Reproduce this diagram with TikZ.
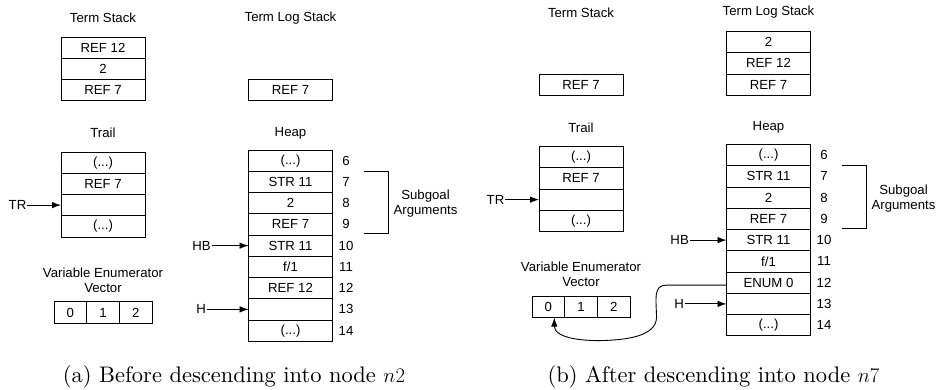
\documentclass[tikz,border=0pt]{standalone}
\usepackage{fontspec}
\newfontfamily\diagfont{Liberation Sans}
\newfontfamily\capfont{lmroman10-regular.otf}
\usetikzlibrary{arrows.meta, positioning}
\newcommand{\elided}{(...)}

\tikzset{
  cell/.style={draw, line width=0.9pt, minimum width=84pt, minimum height=21.25pt, inner sep=0pt, outer sep=0pt},
  vcell/.style={cell, minimum width=32.7pt},
  title/.style={align=center, inner sep=0pt},
  lbl/.style={inner sep=0.5pt, anchor=east},
  ptr/.style={-{Latex[length=9pt,width=6.5pt]}, line width=0.9pt},
  capt/.style={font=\capfont\fontsize{22.5}{26}\selectfont, anchor=base},
}

\begin{document}
\begin{tikzpicture}[x=1pt, y=-1pt, font=\diagfont\fontsize{13.2}{15}\selectfont]
  \useasboundingbox (0,0) rectangle (939,390);

  % (a) before descending
  \begin{scope}
    \node[title] (atst) at (103,18) {Term Stack};
    \node[title] (atlt) at (290.5,18) {Term Log Stack};
    \foreach \t [count=\k from 0] in {REF 12, 2, REF 7}
      \node[cell] (ats\k) at (103,{47.625+21.25*\k}) {\t};
    \node[cell] (atl0) at (290.5,90.125) {REF 7};
    % Trail
    \node[title] (atrt) at (103,133) {Trail};
    \foreach \t [count=\k from 0] in {\elided, REF 7, {}, \elided}
      \node[cell] (at\k) at (103,{162.625+21.25*\k}) {\t};
    \node[lbl] (atr) at ([xshift=-34pt]at2.west) {TR};
    \draw[ptr] (atr.east) -- (at2.west);
    % Heap
    \node[title] (ahpt) at (290.5,133) {Heap};
    \foreach \t [count=\i from 6] in {\elided, STR 11, 2, REF 7, STR 11, f/1, REF 12, {}, \elided}{
      \node[cell] (ah\i) at (290.5,{160.625+21.25*(\i-6)}) {\t};
      \node (an\i) at ([xshift=13.5pt]ah\i.east) {\i};
    }
    \node[lbl] (ahb) at ([xshift=-37pt]ah10.west) {HB};
    \draw[ptr] (ahb.east) -- (ah10.west);
    \node[lbl] (ahh) at ([xshift=-42pt]ah13.west) {H};
    \draw[ptr] (ahh.east) -- (ah13.west);
    \draw[line width=0.9pt] ([xshift=31pt]ah7.north east) -- ++(25,0) |- ([xshift=31pt,yshift=1.5pt]ah9.south east);
    \node[title] (asg) at (425.5,204) {Subgoal\\Arguments};
    % Variable enumerator vector
    \node[title] (avt) at (103,280) {Variable Enumerator\\Vector};
    \node[vcell] (av0) at (70.3,312.5) {0};
    \node[vcell, right=0pt of av0] (av1) {1};
    \node[vcell, right=0pt of av1] (av2) {2};
  \end{scope}

  % (b) after descending
  \begin{scope}[shift={(478,-5.5)}]
    \node[title] (btst) at (103,18) {Term Stack};
    \node[title] (btlt) at (290.5,18) {Term Log Stack};
    \node[cell] (bts0) at (103,90.125) {REF 7};
    \foreach \t [count=\k from 0] in {2, REF 12, REF 7}
      \node[cell] (btl\k) at (290.5,{47.625+21.25*\k}) {\t};
    % Trail
    \node[title] (btrt) at (103,133) {Trail};
    \foreach \t [count=\k from 0] in {\elided, REF 7, {}, \elided}
      \node[cell] (bt\k) at (103,{162.625+21.25*\k}) {\t};
    \node[lbl] (btr) at ([xshift=-34pt]bt2.west) {TR};
    \draw[ptr] (btr.east) -- (bt2.west);
    % Heap
    \node[title] (bhpt) at (290.5,133) {Heap};
    \foreach \t [count=\i from 6] in {\elided, STR 11, 2, REF 7, STR 11, f/1, ENUM 0, {}, \elided}{
      \node[cell] (bh\i) at (290.5,{160.625+21.25*(\i-6)}) {\t};
      \node (bn\i) at ([xshift=13.5pt]bh\i.east) {\i};
    }
    \node[lbl] (bhb) at ([xshift=-37pt]bh10.west) {HB};
    \draw[ptr] (bhb.east) -- (bh10.west);
    \node[lbl] (bhh) at ([xshift=-42pt]bh13.west) {H};
    \draw[ptr] (bhh.east) -- (bh13.west);
    \draw[line width=0.9pt] ([xshift=31pt]bh7.north east) -- ++(25,0) |- ([xshift=31pt,yshift=1.5pt]bh9.south east);
    \node[title] (bsg) at (425.5,204) {Subgoal\\Arguments};
    % Variable enumerator vector
    \node[title] (bvt) at (103,280) {Variable Enumerator\\Vector};
    \node[vcell] (bv0) at (70.3,312.5) {0};
    \node[vcell, right=0pt of bv0] (bv1) {1};
    \node[vcell, right=0pt of bv1] (bv2) {2};
    \draw[ptr] ([yshift=-2.5pt]bh12.west) -- ++(-60,0)
      .. controls +(-14,0) and +(0,-18) .. ++(-10,33)
      .. controls +(-1,18) and +(15,-1) .. ++(-45,22)
      .. controls +(-30,2) and +(0,20) .. ([xshift=6pt]bv0.south);
  \end{scope}

  % captions
  \node[capt] (capa) at (234,382) {(a) Before descending into node $n2$};
  \node[capt] (capb) at (713.5,382) {(b) After descending into node $n7$};
\end{tikzpicture}
\end{document}
